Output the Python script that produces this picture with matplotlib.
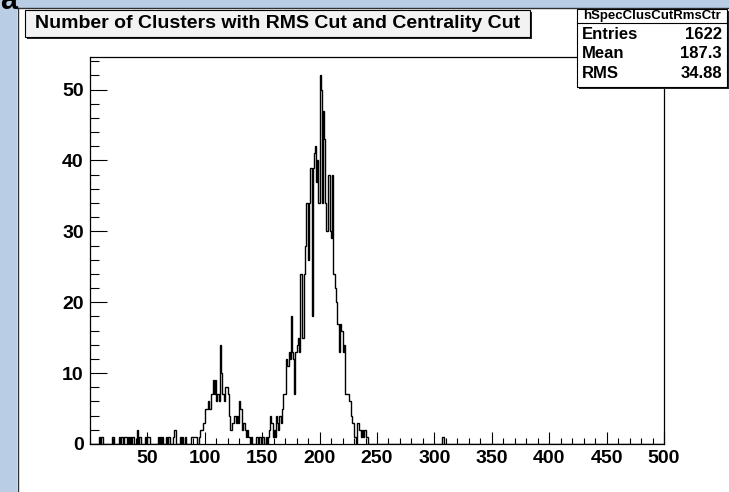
import numpy as np
import matplotlib
matplotlib.use("Agg")
import matplotlib.pyplot as plt
from matplotlib.patches import Rectangle

plt.rcParams["font.family"] = ["Liberation Sans", "DejaVu Sans"]

W, H = 729, 492

# Entries per unit-wide bin, bins 0..244
bin_counts = [
    0, 0, 0, 0, 0, 0, 0, 0, 1, 0,
    1, 0, 0, 0, 0, 0, 0, 0, 0, 1,
    1, 0, 0, 0, 0, 1, 0, 1, 1, 0,
    1, 1, 0, 1, 0, 1, 0, 1, 0, 0,
    0, 2, 0, 1, 0, 0, 0, 0, 1, 0,
    1, 1, 0, 0, 0, 0, 0, 0, 0, 1,
    0, 1, 0, 1, 0, 0, 1, 0, 1, 1,
    0, 0, 1, 2, 2, 0, 0, 0, 1, 0,
    1, 0, 0, 1, 0, 0, 0, 0, 1, 1,
    1, 1, 1, 0, 0, 1, 2, 2, 3, 3,
    5, 5, 5, 6, 5, 7, 7, 9, 7, 9,
    6, 7, 6, 14, 10, 7, 7, 6, 8, 8,
    7, 4, 2, 2, 3, 4, 4, 3, 4, 3,
    6, 5, 2, 3, 3, 2, 1, 2, 1, 0,
    1, 0, 0, 0, 0, 1, 0, 1, 1, 0,
    1, 1, 0, 1, 0, 1, 2, 4, 3, 1,
    2, 1, 4, 3, 2, 4, 3, 5, 7, 7,
    7, 12, 11, 13, 12, 18, 13, 12, 7, 13,
    14, 15, 13, 24, 24, 15, 24, 28, 34, 34,
    26, 34, 39, 18, 39, 41, 42, 37, 40, 34,
    52, 50, 34, 47, 43, 34, 30, 38, 38, 30,
    29, 38, 24, 22, 20, 17, 17, 13, 17, 16,
    13, 14, 7, 7, 7, 7, 6, 4, 3, 3,
    1, 1, 0, 3, 2, 2, 1, 2, 1, 2,
    1, 1, 0, 0, 0,
]
# isolated entries further out
extra_bins = [307]
extra_counts = [1]

n_bins = 500
x_range = (0, 500)

hist_name = "hSpecClusCutRmsCtr"
title = "Number of Clusters with RMS Cut and Centrality Cut"
stat_labels = ["Entries", "Mean", "RMS"]
stat_values = ["1622", "187.3", "34.88"]

x_major = [50, 100, 150, 200, 250, 300, 350, 400, 450, 500]
y_major = [0, 10, 20, 30, 40, 50]

counts = np.zeros(n_bins)
counts[:len(bin_counts)] = bin_counts
for b, c in zip(extra_bins, extra_counts):
    counts[b] = c
edges = np.linspace(x_range[0], x_range[1], n_bins + 1)


def fx(px):
    return px / W


def fy(py):
    return 1 - py / H


fig = plt.figure(figsize=(W / 100, H / 100), dpi=100, facecolor="#b9cde5")

# canvas
fig.add_artist(Rectangle((fx(17), 0), fx(W) - fx(17), fy(8), transform=fig.transFigure,
                         facecolor="white", edgecolor="none", zorder=0))
fig.add_artist(plt.Line2D([fx(17.5), fx(17.5)], [0, fy(8)], transform=fig.transFigure,
                          color="#303030", lw=1.0, zorder=1))
fig.add_artist(plt.Line2D([fx(17), 1], [fy(8), fy(8)], transform=fig.transFigure,
                          color="#303030", lw=1.0, zorder=1))
fig.text(fx(0), fy(9), "a", fontsize=22, fontweight="bold", ha="left", va="baseline")

ax = fig.add_axes([fx(90), fy(444), fx(664) - fx(90), fy(57) - fy(444)])
ax.set_facecolor("white")
ax.stairs(counts, edges, color="black", lw=1.0)

ax.set_xlim(*x_range)
ax.set_ylim(0, 1.05 * counts.max())
ax.set_xticks(x_major)
ax.set_xticks(np.arange(0, 501, 10), minor=True)
ax.set_yticks(y_major)
ax.set_yticks(np.arange(0, 55, 2), minor=True)
ax.tick_params(axis="x", which="major", direction="in", length=8.5, width=0.8, pad=4,
               labelsize=14)
ax.tick_params(axis="x", which="minor", direction="in", length=4.3, width=0.8)
ax.tick_params(axis="y", which="major", direction="in", length=12.5, width=0.8, pad=4.5,
               labelsize=14)
ax.tick_params(axis="y", which="minor", direction="in", length=6.3, width=0.8)
for lab in ax.get_xticklabels() + ax.get_yticklabels():
    lab.set_fontweight("bold")
for s in ax.spines.values():
    s.set_linewidth(0.9)
    s.set_color("black")

# title pave
tx0, ty0, tx1, ty1 = 25, 10, 530, 37
fig.add_artist(Rectangle((fx(tx0 + 2), fy(ty1 + 2)), fx(tx1 - tx0), fy(0) - fy(ty1 - ty0),
                         transform=fig.transFigure, facecolor="#222222", edgecolor="none",
                         zorder=5))
fig.add_artist(Rectangle((fx(tx0), fy(ty1)), fx(tx1 - tx0), fy(0) - fy(ty1 - ty0),
                         transform=fig.transFigure, facecolor="#f2f2f2", edgecolor="black",
                         lw=0.8, zorder=6))
fig.text(fx((tx0 + tx1) / 2), fy((ty0 + ty1) / 2 + 0.5), title, fontsize=14,
         fontweight="bold", ha="center", va="center", zorder=7)

# statistics box
sx0, sy0, sx1, sy1 = 577, 9, 727, 87
fig.add_artist(Rectangle((fx(sx0 + 2), fy(sy1 + 2)), fx(sx1 - sx0), fy(0) - fy(sy1 - sy0),
                         transform=fig.transFigure, facecolor="#222222", edgecolor="none",
                         zorder=5))
fig.add_artist(Rectangle((fx(sx0), fy(sy1)), fx(sx1 - sx0), fy(0) - fy(sy1 - sy0),
                         transform=fig.transFigure, facecolor="white", edgecolor="black",
                         lw=0.8, zorder=6))
fig.add_artist(plt.Line2D([fx(sx0), fx(sx1)], [fy(23), fy(23)], transform=fig.transFigure,
                          color="black", lw=0.8, zorder=7))
fig.text(fx((sx0 + sx1) / 2), fy(16), hist_name, fontsize=9.5, fontweight="bold",
         ha="center", va="center", zorder=7)
for i, (lab, val) in enumerate(zip(stat_labels, stat_values)):
    yy = 34.5 + 19.5 * i
    fig.text(fx(sx0 + 5), fy(yy), lab, fontsize=12, fontweight="bold",
             ha="left", va="center", zorder=7)
    fig.text(fx(sx1 - 5), fy(yy), val, fontsize=12, fontweight="bold",
             ha="right", va="center", zorder=7)

fig.savefig("out.png", dpi=100, facecolor=fig.get_facecolor())
